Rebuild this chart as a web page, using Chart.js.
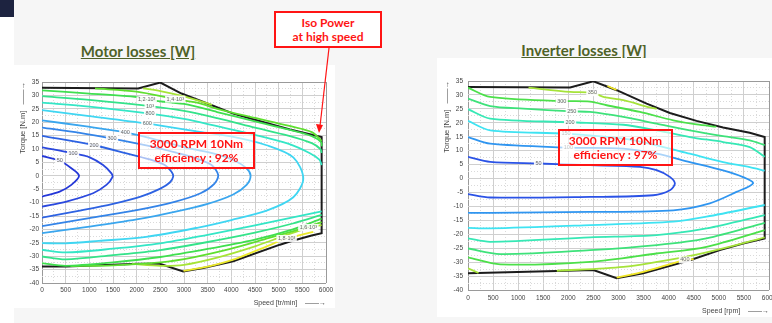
<!DOCTYPE html>
<html>
<head>
<meta charset="utf-8">
<script src="https://cdn.jsdelivr.net/npm/chart.js@4.4.0/dist/chart.umd.min.js"></script>
<style>
  html, body { margin: 0; padding: 0; }
  body {
    width: 772px; height: 323px; position: relative; overflow: hidden;
    background: #f6f6f6; font-family: "Lato", "Liberation Sans", sans-serif;
  }
  .dark { position: absolute; left: 0; top: 0; width: 14px; height: 17px; background: #1d2340; }
  .strip { position: absolute; left: 0; top: 17px; width: 14px; height: 306px; background: #fff; }
  .panel { position: absolute; background: #fff; }
  #motorWrap { left: 14px; top: 65px; width: 321px; height: 243px; }
  #invWrap { left: 437px; top: 58px; width: 335px; height: 259px; }
  .title {
    position: absolute; font-weight: bold; font-size: 15px; line-height: 18px;
    color: #4f6228; text-decoration: underline; white-space: nowrap; transform: translateX(-50%);
  }
  .note {
    position: absolute; box-sizing: border-box; border: 2px solid #ff1414;
    color: #ff1414; text-align: center; font-weight: bold; white-space: nowrap;
  }
  .note.inner { background: rgba(255,255,255,0.6); font-size: 12px; line-height: 14px; padding-top: 3px; }
  .note.iso { background: #fff; font-size: 12px; line-height: 13.5px; padding-top: 3px; }
  svg { position: absolute; left: 0; top: 0; }
</style>
</head>
<body>
<div class="dark"></div>
<div class="strip"></div>
<div class="title" style="left:138px; top:42px;">Motor losses [W]</div>
<div class="title" style="left:584px; top:41px;">Inverter losses [W]</div>
<div class="panel" id="motorWrap"><canvas id="motor" width="321" height="243"></canvas></div>
<div class="panel" id="invWrap"><canvas id="inverter" width="335" height="259"></canvas></div>
<div class="note inner" style="left:138px; top:132px; width:117px; height:37px;">3000 RPM 10Nm<br>efficiency : 92%</div>
<div class="note inner" style="left:558px; top:129px; width:115px; height:37px;">3000 RPM 10Nm<br>efficiency : 97%</div>
<div class="note iso" style="left:274px; top:11px; width:108px; height:37px;">Iso Power<br>at high speed</div>
<svg width="772" height="323">
  <line x1="329" y1="48" x2="320" y2="126" stroke="#ff1414" stroke-width="1.2"></line>
  <polygon points="319,133 316,124 323,125" fill="#ff1414"></polygon>
</svg>

<script>
// motor losses contours, [speed rpm, torque N.m]
const motorLimit = [[0,32.9],[2030,32.6],[2500,34.8],[2947,30.7],[3547,26.6],[4040,23.2],[4534,20.7],[5239,17.3],[5908,14.5],[5908,-21.4],[5697,-22.3],[5239,-24.5],[5027,-25.7],[4040,-31.9],[3405,-34.4],[2982,-35.7],[2489,-32.8],[2030,-32.8],[515,-33.8],[0,-33.8]];
const motor50 = [[0,7.4],[374,5.6],[620,2.8],[783,0],[620,-3.4],[374,-5.9],[0,-7.8]];
const motor100 = [[0,10.6],[656,8.4],[1008,6.9],[1290,4],[1467,0.9],[1488,-0.5],[1361,-3.4],[1079,-6.5],[515,-9.6],[0,-11.5]];
const motor200 = [[0,14.9],[1100,11.4],[1784,8.4],[2277,6.1],[2595,4],[2736,1.5],[2771,-0.3],[2700,-2.5],[2500,-4.8],[2100,-7.7],[1500,-10.5],[800,-13],[0,-15.6]];
const motor300 = [[0,18],[800,16],[1480,13.9],[2277,11.1],[2841,8.6],[3264,6.5],[3582,4],[3723,0.3],[3640,-3],[3350,-6.5],[2800,-9.7],[2000,-12.8],[1000,-15.8],[0,-18.8]];
const motor400 = [[0,20.7],[900,18.5],[1760,16.2],[2490,13.1],[3124,10.2],[3617,8.4],[4040,5.9],[4322,2.8],[4407,0],[4322,-3.4],[4040,-7],[3500,-10.5],[2800,-13.5],[2000,-16.3],[1000,-19],[0,-21.4]];
const motor600 = [[0,24.5],[1000,22.3],[2225,19.5],[3335,16.4],[4040,14.5],[4745,11.4],[5309,6.9],[5520,-1],[5309,-8],[4745,-13],[4000,-16.5],[3300,-19.3],[2200,-22.8],[1200,-24.3],[500,-25.2],[0,-25.1]];
const motor800Top = [[0,27.3],[1000,25.8],[2282,23.2],[3000,21.2],[3700,18.5],[4500,15.3],[5200,12],[5650,8.5],[5860,6],[5908,4]];
const motor800Bottom = [[0,-27.6],[500,-28.6],[1500,-27.2],[2500,-25.2],[3500,-22],[4500,-18.5],[5300,-15.5],[5908,-13.3]];
const motor1000Top = [[0,29.7],[1000,28.3],[2282,26],[3000,24.2],[3700,21.5],[4500,18],[5200,15],[5700,12.2],[5880,10],[5908,8.5]];
const motor1000Bottom = [[0,-30.1],[500,-31.2],[1500,-29.6],[2500,-27.7],[3500,-24.7],[4500,-21.2],[5300,-17.8],[5908,-14.6]];
const motor1200Top = [[0,31.9],[1000,30.7],[2000,29.4],[2211,28.3],[3000,26.8],[3700,23.8],[4500,20.3],[5200,17.3],[5700,14.8],[5900,12.5],[5908,11]];
const motor1200Bottom = [[0,-32.6],[500,-33.6],[1500,-32.3],[2500,-30.3],[3500,-27.3],[4500,-23.8],[5300,-20],[5908,-16]];
const motor1400Top = [[1120,32.6],[2000,31.4],[2816,28.6],[3300,27.2],[3700,25],[4500,21.6],[5200,18.7],[5700,16.3],[5908,13]];
const motor1400Bottom = [[600,-33.7],[1500,-33.4],[2500,-32.3],[3200,-30.4],[4000,-27.2],[4800,-23.2],[5400,-20.2],[5908,-17.3]];
const motor1600Top = [[2135,32.6],[2500,31.6],[3000,29.6],[3590,26.5]];
const motor1600Bottom = [[1900,-32.9],[2500,-33.6],[3000,-33.2],[3700,-30.5],[4500,-26.3],[5100,-22.5],[5627,-19.3],[5908,-18.4]];
const motor1800Bottom = [[2990,-35.5],[3500,-33.9],[4040,-31.3],[4700,-26.7],[5168,-23.4],[5732,-20.9]];
const motorTags = [["50",374,5.6],["100",656,8.4],["200",1100,11.4],["300",1480,13.9],["400",1760,16.2],["600",2225,19.5],["800",2282,23.2],["10³",2282,26],["1,2·10³",2211,28.3],["1,4·10³",2816,28.6],["1,6·10³",5627,-19.3],["1,8·10³",5168,-23.4]];

// inverter losses contours
const invLimit = [[0,32.85],[2035,32.7],[2499,34.9],[2964,31.7],[3561,26.9],[4024,23.5],[4555,20.7],[5085,18.3],[5616,16.4],[5914,14.9],[5914,-21.5],[5483,-23.3],[5019,-25.7],[4422,-29.3],[3494,-34],[2964,-35.8],[2499,-32.8],[1770,-33.2],[0,-34]];
const inv50 = [[0,7.8],[443,6],[1405,5.4],[2433,4.8],[3428,4.2],[3760,3],[4024,0.6],[4124,-1.8],[4024,-4.2],[3693,-6],[2433,-6.6],[443,-6.8],[0,-5.6]];
const inv100 = [[0,14.9],[443,12.5],[2001,11.1],[3096,10.7],[3760,8.9],[4422,5.9],[5085,2.9],[5483,0.5],[5682,-1.7],[5351,-4.8],[4820,-8.9],[4091,-11.4],[2433,-12],[443,-12.3],[0,-12.3]];
const inv150Top = [[0,20.7],[443,17.3],[1955,16.1],[3096,14.3],[3760,11.9],[4422,8.9],[5085,5.9],[5616,4.1],[5914,2.8]];
const inv150Bottom = [[0,-17.7],[443,-17.9],[2433,-16.7],[4091,-15.5],[4754,-13.7],[5914,-9.5]];
const inv200Top = [[0,24.9],[443,21.5],[2035,20.2],[3096,19.3],[3760,17.3],[4422,14.9],[5085,13.1],[5616,11.3],[5914,7.8]];
const inv200Bottom = [[0,-21.5],[443,-22.7],[2433,-21.1],[3760,-20.3],[4754,-17.9],[5914,-13.1]];
const inv250Top = [[0,28.7],[443,26],[1106,25.1],[2068,24.1],[2433,23.9],[3096,22.1],[3760,19.7],[4422,17.3],[5085,15.2],[5616,13.7],[5914,12]];
const inv250Bottom = [[0,-25.1],[643,-27.1],[2433,-25.7],[3760,-23.9],[4754,-21.5],[5914,-15.9]];
const inv300Top = [[0,32.6],[443,29.3],[1869,27.8],[2433,27.6],[2765,26.3],[3428,23.9],[4091,20.9],[4555,19.4],[4950,18.6]];
const inv300Bottom = [[0,-28.3],[643,-30.8],[2433,-29.9],[3760,-26.9],[4754,-24.5],[5914,-18.5]];
const inv350Top = [[1206,32.6],[2035,31.1],[2479,30.8],[2698,29.3],[3096,28.1],[3627,25.5],[3760,25]];
const inv350Bottom = [[1770,-33.1],[3096,-31.7],[4422,-27.8],[5085,-25.1],[5914,-21.1]];
const inv350Corner = [[0,-32.2],[210,-33.9]];
const inv400Top = [[2780,33.2],[2960,31.8]];
const inv400Bottom = [[2964,-35.6],[3494,-33.5],[4323,-29.2],[4500,-28.9]];
const invTags = [["350",2479,30.8],["300",1869,27.8],["250",2068,24.1],["200",2035,20.2],["150",1955,16.1],["100",2001,11.1],["50",1405,5.4],["400",4323,-29.2]];

function line(points, color) {
  return {
    data: points.map((p) => ({ x: p[0], y: p[1] })),
    borderColor: color,
    borderWidth: 1.8,
    pointRadius: 0,
    showLine: true,
    tension: 0.3,
    fill: false,
  };
}

function limit(points) {
  let ds = line(points, "#1c1c1c");
  ds.tension = 0;
  ds.borderWidth = 2;
  return ds;
}

function tagPlugin(items) {
  return {
    id: "tags",
    afterDatasetsDraw(chart) {
      const { ctx } = chart;
      const x = chart.scales.x;
      const y = chart.scales.y;
      ctx.save();
      ctx.font = '5.5px "Liberation Sans", sans-serif';
      ctx.textAlign = "center";
      ctx.textBaseline = "middle";
      items.forEach(([text, s, t]) => {
        const px = x.getPixelForValue(s);
        const py = y.getPixelForValue(t);
        const w = ctx.measureText(text).width + 3;
        ctx.fillStyle = "rgba(255,255,255,0.9)";
        ctx.fillRect(px - w / 2, py - 3.5, w, 7);
        ctx.fillStyle = "#666";
        ctx.fillText(text, px, py);
      });
      ctx.restore();
    },
  };
}

function gridColor(c, major) {
  const v = c.tick ? c.tick.value : 0;
  if (v === c.scale.min || v === c.scale.max) return "#9a9a9a";
  return Math.abs(v % major) < 1e-6 ? "#cfcfcf" : "#dadada";
}

function gridDash(c, major) {
  if (!c.tick) return [];
  return Math.abs(c.tick.value % major) < 1e-6 ? [] : [1, 2];
}

function axes(xTitle, yWidth, xHeight, m) {
  const tickFont = { family: '"Liberation Sans", sans-serif', size: 6.5 };
  return {
    x: {
      type: "linear",
      min: 0,
      max: 6000,
      afterFit: (s) => {
        s.height = xHeight;
        s.paddingLeft = 0;
        s.paddingRight = 0;
      },
      grid: { drawTicks: false, color: (c) => gridColor(c, 500), lineWidth: 1 },
      border: { display: false, dash: (c) => gridDash(c, 500) },
      ticks: {
        stepSize: 250,
        autoSkip: false,
        maxRotation: 0,
        padding: m.xPad,
        color: "#444",
        font: tickFont,
        callback: (v) => (v % 500 === 0 ? v : ""),
      },
      title: {
        display: true,
        text: xTitle,
        align: "end",
        color: "#444",
        font: { family: '"Liberation Sans", sans-serif', size: 7 },
        padding: { top: 0, bottom: m.xTitlePad },
      },
    },
    y: {
      type: "linear",
      min: -40,
      max: 35,
      afterFit: (s) => {
        s.width = yWidth;
        s.paddingTop = 0;
        s.paddingBottom = 0;
      },
      grid: { drawTicks: false, color: (c) => gridColor(c, 5), lineWidth: 1 },
      border: { display: false, dash: (c) => gridDash(c, 5) },
      ticks: {
        stepSize: 2.5,
        autoSkip: false,
        padding: m.yPad,
        color: "#444",
        font: tickFont,
        callback: (v) => (v % 5 === 0 ? v : ""),
      },
      title: {
        display: true,
        text: "Torque [N.m]   \u2014\u2014\u2192",
        align: "end",
        color: "#444",
        font: { family: '"Liberation Sans", sans-serif', size: 7.5 },
        padding: { top: m.yTitlePad, bottom: 0 },
      },
    },
  };
}

function makeChart(id, datasets, tags, xTitle, yWidth, xHeight, pad, m) {
  const ctx = document.getElementById(id).getContext("2d");
  return new Chart(ctx, {
    type: "scatter",
    data: { datasets: datasets },
    options: {
      responsive: false,
      animation: false,
      events: [],
      layout: { padding: pad },
      plugins: { legend: { display: false }, tooltip: { enabled: false } },
      scales: axes(xTitle, yWidth, xHeight, m),
    },
    plugins: [tagPlugin(tags)],
  });
}

document.addEventListener("DOMContentLoaded", () => {
  makeChart(
    "motor",
    [
      line(motor50, "#2437d8"),
      line(motor100, "#2a48de"),
      line(motor200, "#2d62e2"),
      line(motor300, "#3484e8"),
      line(motor400, "#3aa6ee"),
      line(motor600, "#3fd6f2"),
      line(motor800Top, "#34e6c6"),
      line(motor800Bottom, "#34e6c6"),
      line(motor1000Top, "#34e38a"),
      line(motor1000Bottom, "#34e38a"),
      line(motor1200Top, "#3fdf4f"),
      line(motor1200Bottom, "#3fdf4f"),
      line(motor1400Top, "#5fdf2f"),
      line(motor1400Bottom, "#5fdf2f"),
      line(motor1600Top, "#a6e436"),
      line(motor1600Bottom, "#a6e436"),
      line(motor1800Bottom, "#ebe92a"),
      limit(motorLimit),
    ],
    motorTags,
    "Speed [tr/min]    \u2014\u2014\u2192",
    28, 25,
    { top: 17, right: 9, left: 0, bottom: 0 },
    { xPad: 3, xTitlePad: 1, yPad: 3, yTitlePad: 4 }
  );

  makeChart(
    "inverter",
    [
      line(inv50, "#2a52e6"),
      line(inv100, "#2f95f0"),
      line(inv150Top, "#3ee3f2"),
      line(inv150Bottom, "#3ee3f2"),
      line(inv200Top, "#36e8b5"),
      line(inv200Bottom, "#36e8b5"),
      line(inv250Top, "#3ee27a"),
      line(inv250Bottom, "#3ee27a"),
      line(inv300Top, "#4ce04a"),
      line(inv300Bottom, "#4ce04a"),
      line(inv350Top, "#a6e33a"),
      line(inv350Bottom, "#a6e33a"),
      line(inv350Corner, "#a6e33a"),
      line(inv400Top, "#f0e626"),
      line(inv400Bottom, "#f0e626"),
      limit(invLimit),
    ],
    invTags,
    "Speed [rpm]    \u2014\u2014\u2192",
    31, 27,
    { top: 23, right: 3, left: 0, bottom: 0 },
    { xPad: 4, xTitlePad: 2, yPad: 5, yTitlePad: 5 }
  );
});
</script>
</body>
</html>
